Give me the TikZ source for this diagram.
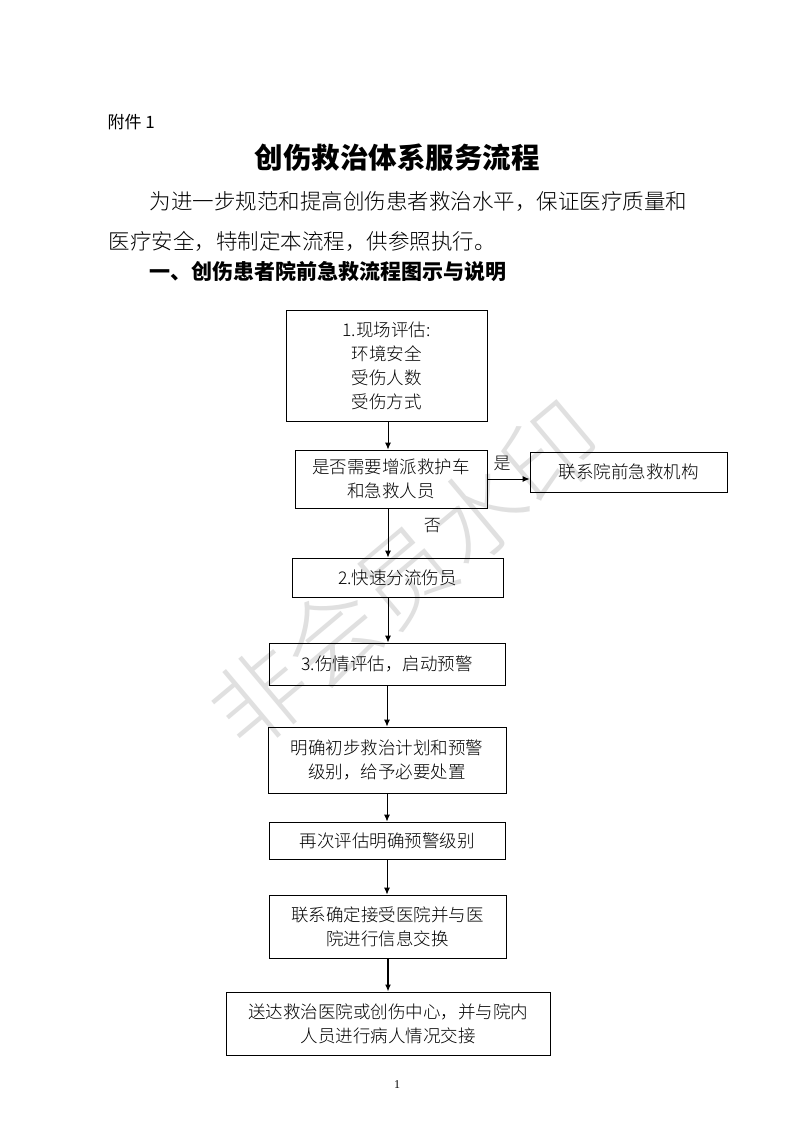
\documentclass[tikz,border=0pt]{standalone}
\usepackage{fontspec}
\setmainfont{Liberation Serif}
\newfontfamily\cjk{Noto Sans CJK SC}
\newfontfamily\cjkl{Noto Sans CJK SC Light}
\usetikzlibrary{arrows.meta}
\begin{document}
\begin{tikzpicture}[x=1pt,y=-1pt,
  bx/.style={draw,line width=0.9pt,align=center,font=\fontsize{17.5}{24}\selectfont\cjkl,inner sep=0pt},
  ar/.style={-{Latex[length=7pt,width=6pt]},line width=0.9pt}]
\useasboundingbox (0,0) rectangle (793,1122);
\fill[white] (0,0) rectangle (793,1122);
\node[rotate=40,text=black!12,font=\fontsize{95}{95}\selectfont\cjkl] (wm) at (405,575) {非会员水印};
\node[anchor=west,font=\fontsize{17}{17}\selectfont\cjk] (fj) at (104,122) {附件 1};
\node[font=\fontsize{28.5}{28.5}\selectfont\bfseries\cjk] (tt) at (397,158) {创伤救治体系服务流程};
\node[anchor=west,font=\fontsize{21.5}{21.5}\selectfont\cjkl] (p1) at (146,201) {为进一步规范和提高创伤患者救治水平，保证医疗质量和};
\node[anchor=west,font=\fontsize{21.5}{21.5}\selectfont\cjkl] (p2) at (105,241) {医疗安全，特制定本流程，供参照执行。};
\node[anchor=west,font=\fontsize{21}{21}\selectfont\bfseries\cjk] (h1) at (146,271) {一、创伤患者院前急救流程图示与说明};
\node[bx,minimum width=201,minimum height=111] (b1) at (386.5,365.5) {1.现场评估:\\环境安全\\受伤人数\\受伤方式};
\node[bx,minimum width=192,minimum height=58] (b2) at (391,479) {是否需要增派救护车\\和急救人员};
\node[bx,minimum width=197,minimum height=40] (br) at (628.5,472) {联系院前急救机构};
\node[bx,minimum width=211,minimum height=39] (b3) at (397.5,577.5) {2.快速分流伤员};
\node[bx,minimum width=236,minimum height=42] (b4) at (387,664) {3.伤情评估，启动预警};
\node[bx,minimum width=238,minimum height=66] (b5) at (387,760) {明确初步救治计划和预警\\级别，给予必要处置};
\node[bx,minimum width=236,minimum height=37] (b6) at (387,840.5) {再次评估明确预警级别};
\node[bx,minimum width=237,minimum height=63] (b7) at (387.5,926.5) {联系确定接受医院并与医\\院进行信息交换};
\node[bx,minimum width=324,minimum height=63] (b8) at (388,1023.5) {送达救治医院或创伤中心，并与院内\\人员进行病人情况交接};
\draw[ar] (b1.south -| 388,0) -- (b2.north -| 388,0);
\draw[ar] (b2.east |- 0,479) -- (br.west |- 0,479) node[pos=0.35,above=4pt,font=\fontsize{17}{17}\selectfont\cjkl] (ys) {是};
\draw[ar] (b2.south -| 388,0) -- (b3.north -| 388,0) node[pos=0.35,right=32pt,font=\fontsize{17}{17}\selectfont\cjkl] (no) {否};
\draw[ar] (b3.south -| 388,0) -- (b4.north -| 388,0);
\draw[ar] (b4.south -| 387,0) -- (b5.north -| 387,0);
\draw[ar] (b5.south -| 387,0) -- (b6.north -| 387,0);
\draw[ar] (b6.south -| 387,0) -- (b7.north -| 387,0);
\draw[ar,line width=1.4pt] (b7.south -| 388,0) -- (b8.north -| 388,0);
\node[font=\fontsize{12}{12}\selectfont] (pg) at (397,1085) {1};
\end{tikzpicture}
\end{document}
